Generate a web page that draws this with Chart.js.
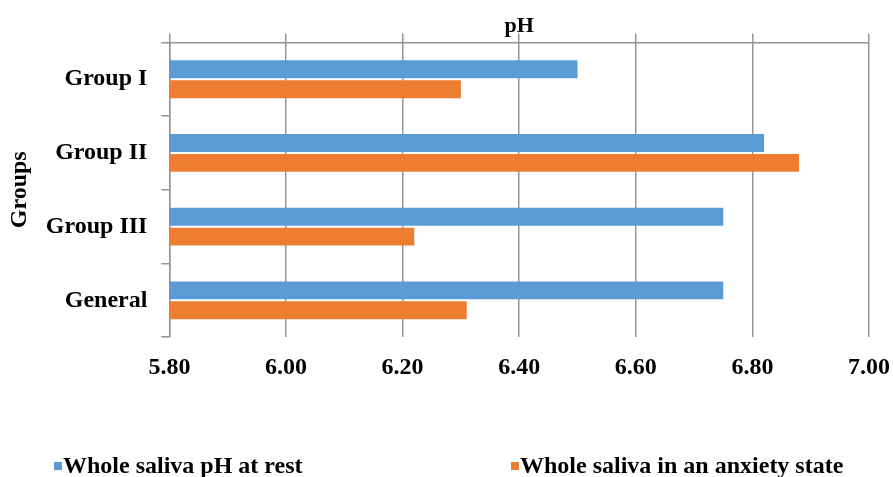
<!DOCTYPE html>
<html>
<head>
<meta charset="utf-8">
<script src="https://cdn.jsdelivr.net/npm/chart.js@4.4.1/dist/chart.umd.min.js"></script>
<style>
  html, body { margin: 0; padding: 0; background: #ffffff; }
  #wrap { width: 893px; height: 477px; position: relative; }
</style>
</head>
<body>
<div id="wrap"><canvas id="c" width="893" height="477"></canvas></div>
<script>
const categories = ['Group I', 'Group II', 'Group III', 'General'];
const restValues = [6.50, 6.82, 6.75, 6.75];
const anxietyValues = [6.30, 6.88, 6.22, 6.31];
const seriesNames = ['Whole saliva pH at rest', 'Whole saliva in an anxiety state'];
const xTicks = [5.80, 6.00, 6.20, 6.40, 6.60, 6.80, 7.00];
const chartTitle = 'pH';
const yAxisTitle = 'Groups';

const FONT = "'Liberation Serif', 'Times New Roman', serif";
const GRID = '#959595';
const BLUE = '#5B9BD5';
const ORANGE = '#ED7D31';

const legendPlugin = {
  id: 'customLegend',
  afterDraw(chart, args, opts) {
    const ctx = chart.ctx;
    ctx.save();
    ctx.font = 'bold 24px ' + FONT;
    ctx.textBaseline = 'middle';
    ctx.textAlign = 'left';
    chart.data.datasets.forEach((ds, i) => {
      const x = opts.xs[i];
      const y = opts.y;
      ctx.fillStyle = ds.backgroundColor;
      ctx.fillRect(x, y - 4, 8, 8);
      ctx.fillStyle = '#000';
      ctx.fillText(ds.label, x + 9, y + 1);
    });
    ctx.restore();
  }
};

const setTicks = (scale) => { scale.ticks = xTicks.map(v => ({ value: v })); };

new Chart(document.getElementById('c'), {
  type: 'bar',
  data: {
    labels: categories,
    datasets: [
      { label: seriesNames[0], data: restValues, backgroundColor: BLUE, categoryPercentage: 0.54, barPercentage: 0.9 },
      { label: seriesNames[1], data: anxietyValues, backgroundColor: ORANGE, categoryPercentage: 0.54, barPercentage: 0.9 }
    ]
  },
  options: {
    indexAxis: 'y',
    responsive: false,
    animation: false,
    layout: { padding: { left: 5, right: 0, top: 13, bottom: 79 } },
    plugins: {
      legend: { display: false },
      tooltip: { enabled: false },
      title: { display: false },
      customLegend: { xs: [54, 511], y: 466 }
    },
    scales: {
      x: {
        type: 'linear', position: 'bottom', min: 5.8, max: 7.0,
        afterBuildTicks: setTicks,
        afterFit: (scale) => { scale.paddingRight = 24; },
        grid: { color: GRID, lineWidth: 1.5, drawTicks: false },
        border: { display: false },
        ticks: {
          color: '#000', padding: 16,
          font: { family: FONT, size: 24, weight: 'bold' },
          callback: (v) => Number(v).toFixed(2)
        }
      },
      x2: {
        type: 'linear', position: 'top', min: 5.8, max: 7.0,
        afterBuildTicks: setTicks,
        grid: { color: GRID, lineWidth: 1.5, drawOnChartArea: false, tickLength: 9 },
        border: { display: true, color: GRID, width: 1.5 },
        ticks: { display: false },
        title: {
          display: true, text: chartTitle, color: '#000',
          font: { family: FONT, size: 22, weight: 'bold' },
          padding: { top: 0, bottom: -6 }
        }
      },
      y: {
        type: 'category',
        grid: { color: GRID, lineWidth: 1.5, drawOnChartArea: false, tickLength: 8, offset: true },
        border: { display: true, color: GRID, width: 1.5 },
        ticks: {
          color: '#000', padding: 14,
          font: { family: FONT, size: 24, weight: 'bold' }
        },
        title: {
          display: true, text: yAxisTitle, color: '#000',
          font: { family: FONT, size: 24, weight: 'bold' },
          padding: { top: 0, bottom: -2 }
        }
      }
    }
  },
  plugins: [legendPlugin]
});
</script>
</body>
</html>
